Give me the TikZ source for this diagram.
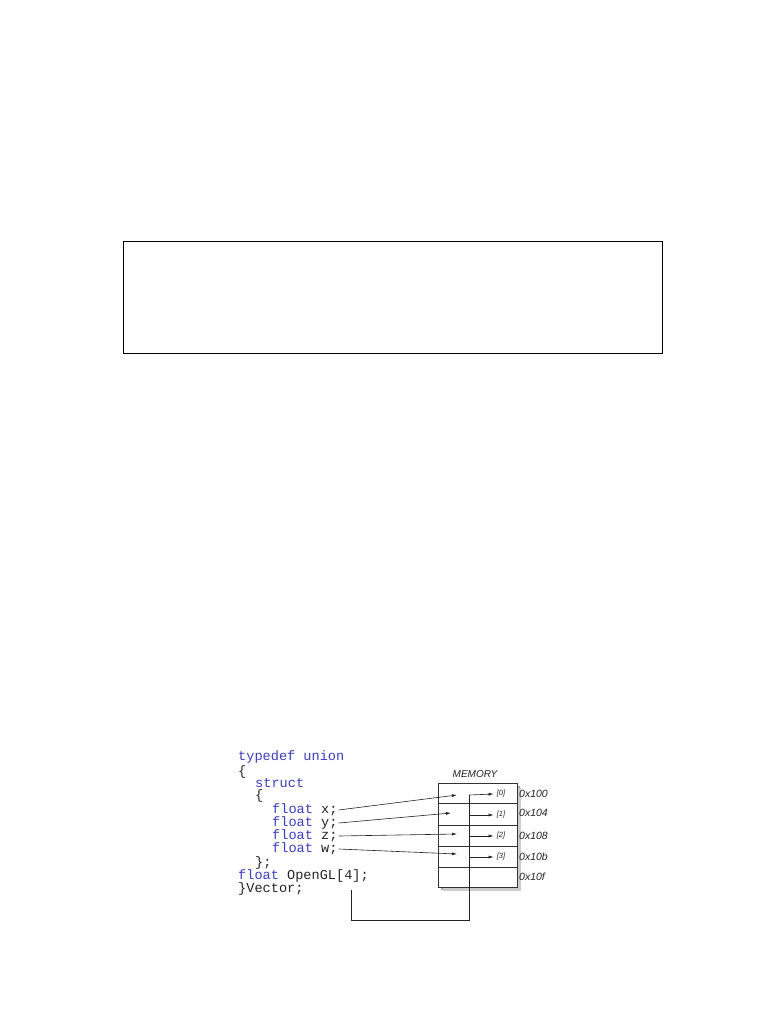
\documentclass[tikz,border=0pt]{standalone}
\usepackage{fontspec}
\setmainfont{Liberation Sans}
\newfontfamily\codefont{Liberation Mono}
\usetikzlibrary{arrows.meta}
\definecolor{kwblue}{RGB}{60,60,190}
\definecolor{codeblack}{RGB}{35,35,35}
\newcommand{\kw}[1]{\textcolor{kwblue}{#1}}
\tikzset{
  code/.style={inner sep=0pt, anchor=west, font=\codefont\fontsize{13.6}{14}\selectfont, text=codeblack},
  addr/.style={inner sep=0pt, anchor=west, font=\itshape\fontsize{10.5}{11}\selectfont, text=codeblack},
  idx/.style={inner sep=0pt, font=\itshape\fontsize{7.5}{8}\selectfont, text=codeblack},
  ptr/.style={line width=0.6pt, draw=codeblack, -{Latex[length=5pt,width=3pt]}},
  wire/.style={line width=0.6pt, draw=codeblack},
  memcell/.style={line width=0.8pt, draw=black!80},
  emptybox/.style={line width=1.1pt, draw=black}
}
\begin{document}
\begin{tikzpicture}[x=1pt,y=-1pt]
\useasboundingbox (0,0) rectangle (768,1024);
% empty framed box
\node[emptybox, minimum width=539pt, minimum height=112pt, anchor=north west, inner sep=0pt] (frame) at (123,241) {};
% code
\node[code] (l1) at (238,757) {\kw{typedef union}};
\node[code] (l2) at (238,772) {\{};
\node[code] (l3) at (255,783) {\kw{struct}};
\node[code] (l4) at (255,796) {\{};
\node[code] (lx) at (272,810) {\kw{float} x;};
\node[code] (ly) at (272,823) {\kw{float} y;};
\node[code] (lz) at (272,836) {\kw{float} z;};
\node[code] (lw) at (272,849) {\kw{float} w;};
\node[code] (l9) at (255,863) {\};};
\node[code] (lgl) at (238,876) {\kw{float} OpenGL[4];};
\node[code] (lv) at (238,889) {\}Vector;};
% memory box with shadow
\fill[black!35] (441,786) rectangle (520,890);
\fill[black!20] (443,788) rectangle (521,891);
\node[memcell, fill=white, minimum width=79pt, minimum height=104pt, anchor=north west, inner sep=0pt] (mem) at (438,783) {};
\draw[memcell] (438,803) -- (517,803);
\draw[memcell] (438,825) -- (517,825);
\draw[memcell] (438,846) -- (517,846);
\draw[memcell] (438,867) -- (517,867);
\node[inner sep=0pt, font=\itshape\fontsize{10}{11}\selectfont, text=codeblack] (memlbl) at (475,774) {MEMORY};
% indices
\node[idx] (i0) at (501,794) {[0]};
\node[idx] (i1) at (501,815) {[1]};
\node[idx] (i2) at (501,836) {[2]};
\node[idx] (i3) at (501,857) {[3]};
% addresses
\node[addr] (a0) at (519,794) {0x100};
\node[addr] (a1) at (519,813) {0x104};
\node[addr] (a2) at (519,836) {0x108};
\node[addr] (a3) at (519,857) {0x10b};
\node[addr] (a4) at (519,877) {0x10f};
% struct members -> memory
\coordinate (mx) at (457,795);
\coordinate (my) at (451,813);
\coordinate (mz) at (457,834);
\coordinate (mw) at (457,854);
\draw[ptr] ([xshift=1pt]lx.east) -- (mx);
\draw[ptr] ([xshift=1pt]ly.east) -- (my);
\draw[ptr] ([xshift=1pt]lz.east) -- (mz);
\draw[ptr] ([xshift=1pt]lw.east) -- (mw);
% OpenGL array -> memory
\coordinate (gstart) at (351,890);
\coordinate (gcorner1) at (351,920);
\coordinate (gcorner2) at (469,920);
\coordinate (gtop) at (469,795);
\draw[wire] (gstart) -- (gcorner1) -- (gcorner2) -- (gtop);
\draw[ptr] (gtop) -- ([xshift=-3pt]i0.west);
\coordinate (r1) at (469,815);
\coordinate (r2) at (469,836);
\coordinate (r3) at (469,857);
\draw[ptr] (r1) -- ([xshift=-3pt]i1.west);
\draw[ptr] (r2) -- ([xshift=-3pt]i2.west);
\draw[ptr] (r3) -- ([xshift=-3pt]i3.west);
\end{tikzpicture}
\end{document}
